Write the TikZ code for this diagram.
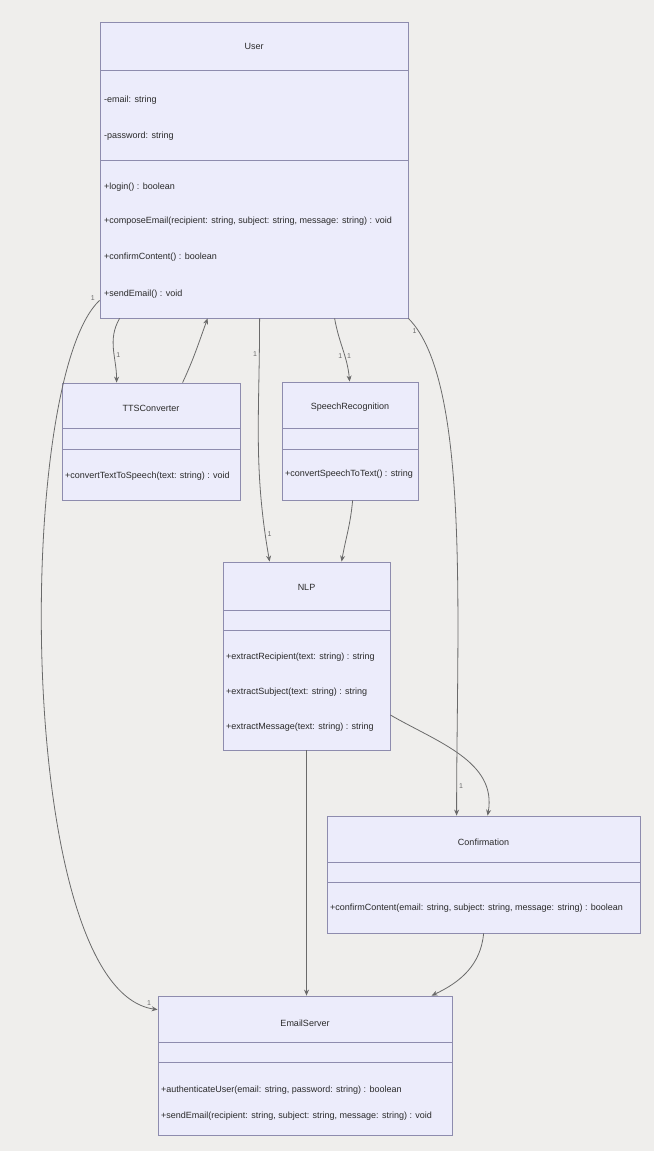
\documentclass[tikz,border=0pt]{standalone}
\usepackage{fontspec}
\setmainfont{Liberation Sans}
\definecolor{pagebg}{HTML}{EFEEEC}
\definecolor{boxfill}{HTML}{ECECFB}
\definecolor{boxline}{HTML}{8E8CAE}
\definecolor{inkgray}{HTML}{2A2A2A}
\definecolor{wiregray}{HTML}{6A6A6A}
\usetikzlibrary{arrows.meta}

\begin{document}
\begin{tikzpicture}[
  x=1pt, y=1pt,
  cls/.style={rectangle, draw=boxline, fill=boxfill, line width=0.8pt, inner sep=0pt},
  sep/.style={draw=boxline, line width=0.8pt},
  ttl/.style={font=\fontsize{9}{10}\selectfont, text=inkgray, inner sep=0pt},
  mem/.style={ttl, anchor=west},
  assoc/.style={draw=wiregray, line width=0.8pt, -{Stealth[length=6pt, width=5pt]}},
  card/.style={font=\fontsize{7}{8}\selectfont, text=wiregray, inner sep=2pt},
]
\useasboundingbox[fill=pagebg] (0,0) rectangle (654,-1151);

% class boxes
\node[cls, minimum width=308pt, minimum height=296pt] (user) at (254,-170) {};
\node[cls, minimum width=178pt, minimum height=117pt] (tts) at (151,-441.5) {};
\node[cls, minimum width=136pt, minimum height=118pt] (sr) at (350,-441) {};
\node[cls, minimum width=167pt, minimum height=188pt] (nlp) at (306.5,-656) {};
\node[cls, minimum width=313pt, minimum height=117pt] (conf) at (483.5,-874.5) {};
\node[cls, minimum width=294pt, minimum height=139pt] (es) at (305,-1065.5) {};

% compartments
\draw[sep] (100,-70) -- (408,-70);
\draw[sep] (100,-160) -- (408,-160);
\draw[sep] (62,-428) -- (240,-428);
\draw[sep] (62,-449) -- (240,-449);
\draw[sep] (282,-428) -- (418,-428);
\draw[sep] (282,-449) -- (418,-449);
\draw[sep] (223,-610) -- (390,-610);
\draw[sep] (223,-630) -- (390,-630);
\draw[sep] (327,-862) -- (640,-862);
\draw[sep] (327,-882) -- (640,-882);
\draw[sep] (158,-1042) -- (452,-1042);
\draw[sep] (158,-1062) -- (452,-1062);

% User
\node[ttl] (userT) at (254,-46) {User};
\node[mem] (userA1) at (104,-100) {-email: string};
\node[mem] (userA2) at (104,-136) {-password: string};
\node[mem] (userM1) at (104,-187) {+login() : boolean};
\node[mem] (userM2) at (104,-221) {+composeEmail(recipient: string, subject: string, message: string) : void};
\node[mem] (userM3) at (104,-257) {+confirmContent() : boolean};
\node[mem] (userM4) at (104,-294) {+sendEmail() : void};

% TTSConverter
\node[ttl] (ttsT) at (151,-408) {TTSConverter};
\node[mem] (ttsM1) at (65,-476) {+convertTextToSpeech(text: string) : void};

% SpeechRecognition
\node[ttl] (srT) at (350,-407) {SpeechRecognition};
\node[mem] (srM1) at (285,-474) {+convertSpeechToText() : string};

% NLP
\node[ttl] (nlpT) at (306.5,-587) {NLP};
\node[mem] (nlpM1) at (226,-657) {+extractRecipient(text: string) : string};
\node[mem] (nlpM2) at (226,-692) {+extractSubject(text: string) : string};
\node[mem] (nlpM3) at (226,-727) {+extractMessage(text: string) : string};

% Confirmation
\node[ttl] (confT) at (483.5,-842) {Confirmation};
\node[mem] (confM1) at (330,-908) {+confirmContent(email: string, subject: string, message: string) : boolean};

% EmailServer
\node[ttl] (esT) at (305,-1023) {EmailServer};
\node[mem] (esM1) at (161,-1090) {+authenticateUser(email: string, password: string) : boolean};
\node[mem] (esM2) at (161,-1116) {+sendEmail(recipient: string, subject: string, message: string) : void};

% associations
\draw[assoc] ([xshift=20pt]user.south west) to[out=-120, in=90]
  node[card, pos=0.6, right] {1} ([xshift=55pt]tts.north west);
\draw[assoc] ([xshift=121pt]tts.north west) to[out=65, in=-110] ([xshift=108pt]user.south west);
\draw[assoc] ([xshift=160pt]user.south west) to[out=-90, in=100]
  node[card, pos=0.13, left] {1} node[card, pos=0.9, right] {1} ([xshift=47pt]nlp.north west);
\draw[assoc] ([xshift=235pt]user.south west) to[out=-80, in=95]
  node[card, pos=0.6, left] {1} node[card, pos=0.6, right] {1} ([xshift=68pt]sr.north west);
\draw[assoc] (user.south east) to[out=-45, in=90, out looseness=0.45, in looseness=1.0]
  node[card, pos=0.06, left] {1} node[card, pos=0.95, right] {1} ([xshift=130pt]conf.north west);
\draw[assoc] ([xshift=71pt]sr.south west) to[out=-95, in=80] ([xshift=119pt]nlp.north west);
\draw[assoc] ([yshift=-59pt]nlp.east) to[out=-30, in=80] ([xshift=161pt]conf.north west);
\draw[assoc] (nlp.south) -- (nlp.south |- es.north);
\draw[assoc] ([xshift=157pt]conf.south west) to[out=-95, in=25] ([xshift=274pt]es.north west);
\draw[assoc] ([yshift=18pt]user.south west) to[out=-137, in=172, out looseness=0.42, in looseness=0.52]
  node[card, pos=0.01, above left] {1} node[card, pos=0.98, above] {1} ([yshift=-14pt]es.north west);
\end{tikzpicture}
\end{document}
